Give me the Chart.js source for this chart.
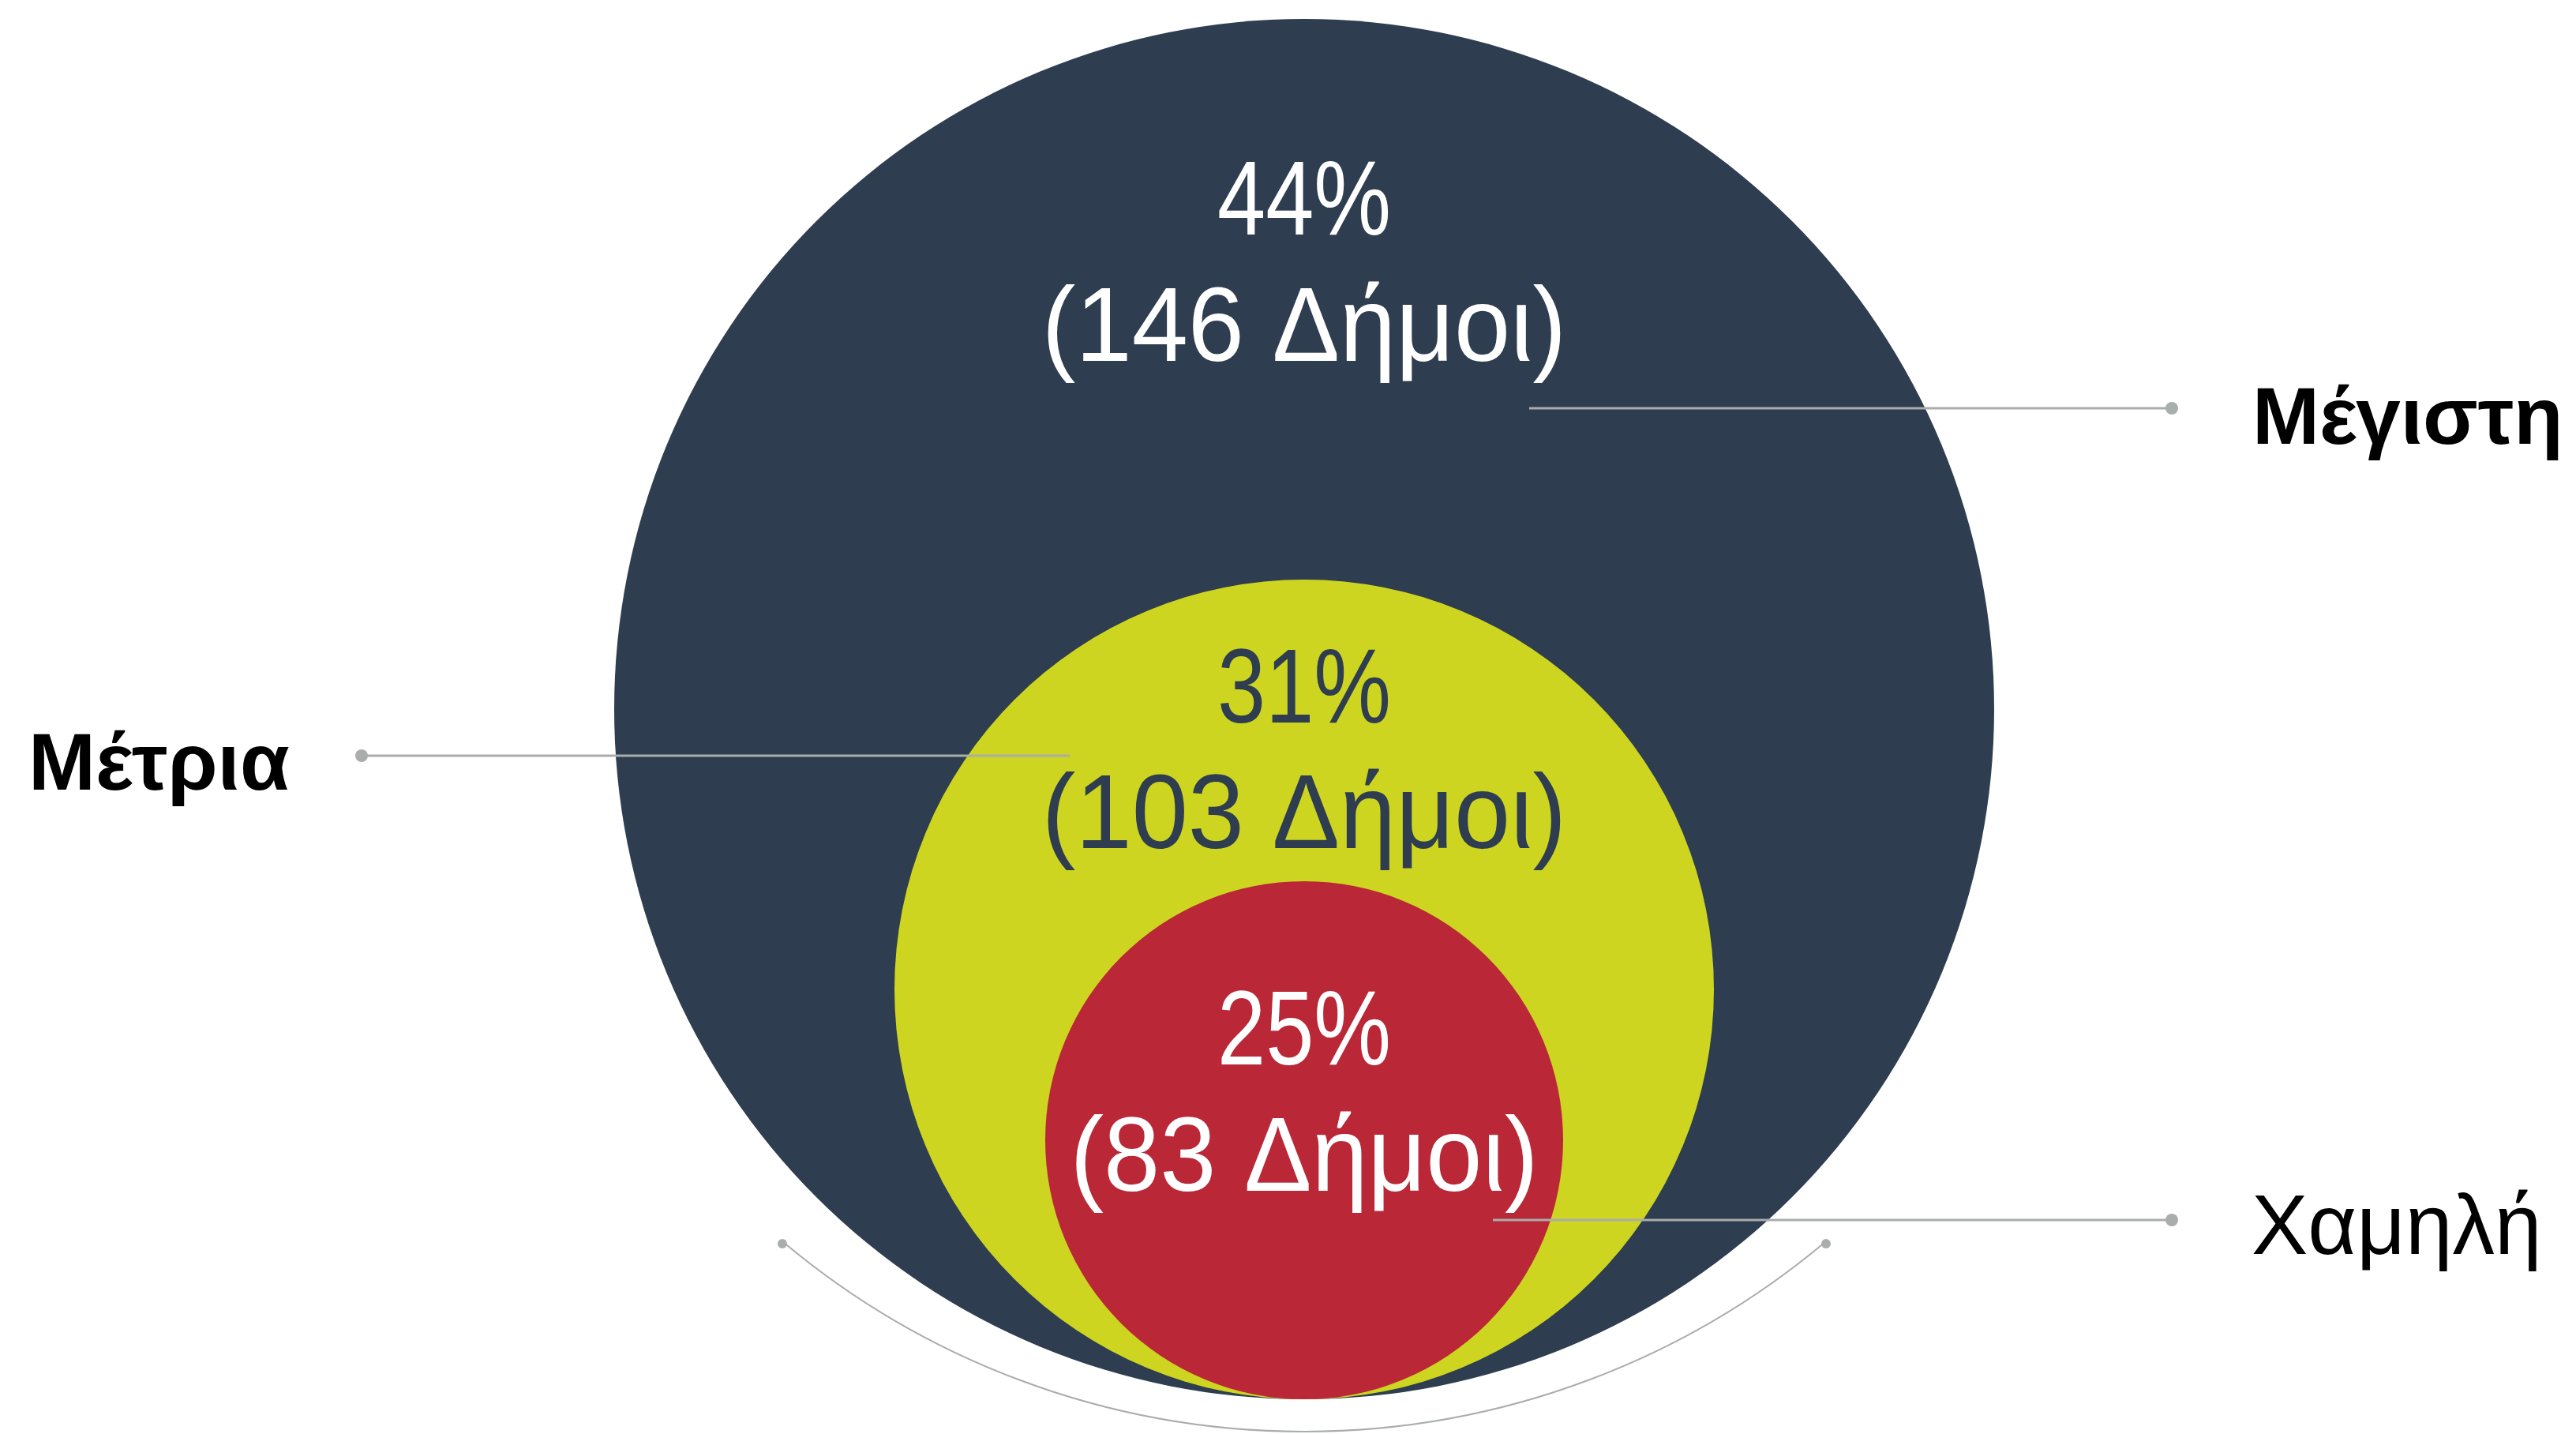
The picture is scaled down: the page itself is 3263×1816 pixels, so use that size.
<!DOCTYPE html>
<html lang="el">
<head>
<meta charset="utf-8">
<title>Δήμοι ανά κατηγορία</title>
<script src="https://cdn.jsdelivr.net/npm/chart.js@4.4.0/dist/chart.umd.min.js"></script>
<style>
  html, body { margin: 0; padding: 0; background: #ffffff; }
  #wrap { width: 3263px; height: 1816px; position: relative; }
</style>
</head>
<body>
<div id="wrap"><canvas id="circlesChart"></canvas></div>
<script>
// Data
const categories = ["Μέγιστη", "Μέτρια", "Χαμηλή"];
const percentValues = [44, 31, 25];
const municipalityCounts = [146, 103, 83];

// Styles / sizes
const circleColors = ["#2E3D4F", "#CDD521", "#BA2737"];
const innerTextColors = ["#FFFFFF", "#2E3D4F", "#FFFFFF"];
const circleRadius = [874, 519, 328];
// baselines of the two text lines, measured from the circle centre
const textOffsets = [[-601, -441], [-338, -179], [-96, 64]];
const lineColor = "#A9ADAC";

// leader lines + outer labels (pixels)
const labelLayout = [
  { lineFrom: 285, lineTo: 2751, dotX: 2751, y: 517, textX: 2853, baseline: 562, weight: "bold" },
  { lineFrom: -297, lineTo: 458, dotX: 458, y: 957, textX: 36, baseline: 1000, weight: "bold" },
  { lineFrom: 239, lineTo: 2751, dotX: 2751, y: 1545, textX: 2852, baseline: 1588, weight: "normal" },
];

// chart: circles bottom-aligned, 1 unit = 1 pixel
const W = 3263, H = 1816;
const centreX = 1652;
const baseY = 1772;

const bubbleData = categories.map((c, i) => ({
  x: 0,
  y: circleRadius[i],
  r: circleRadius[i],
}));

// draw text squeezed a little horizontally (the original font is narrower)
function narrowText(ctx, text, x, y, squeeze) {
  ctx.save();
  ctx.translate(x, y);
  ctx.scale(squeeze, 1);
  ctx.fillText(text, 0, 0);
  ctx.restore();
}

const overlayPlugin = {
  id: "overlay",
  afterDatasetsDraw(chart) {
    const ctx = chart.ctx;
    const meta = chart.getDatasetMeta(0);
    ctx.save();

    // text inside circles
    meta.data.forEach((el, i) => {
      ctx.fillStyle = innerTextColors[i];
      ctx.textAlign = "center";
      ctx.textBaseline = "alphabetic";
      ctx.font = "134px 'Liberation Sans'";
      narrowText(ctx, percentValues[i] + "%", el.x, el.y + textOffsets[i][0], 0.82);
      narrowText(ctx, "(" + municipalityCounts[i] + " Δήμοι)", el.x, el.y + textOffsets[i][1], 0.955);
    });

    // leader lines
    const cx = meta.data[0].x;
    ctx.strokeStyle = lineColor;
    ctx.fillStyle = lineColor;
    ctx.lineWidth = 3;
    labelLayout.forEach((lab, i) => {
      ctx.beginPath();
      ctx.moveTo(cx + lab.lineFrom, lab.y);
      ctx.lineTo(lab.lineTo, lab.y);
      ctx.stroke();
      ctx.beginPath();
      ctx.arc(lab.dotX, lab.y, 8, 0, Math.PI * 2);
      ctx.fill();

      ctx.fillStyle = "#000000";
      ctx.textAlign = "left";
      ctx.font = lab.weight + (lab.weight === "bold" ? " 102px" : " 107px") + " 'Liberation Sans'";
      ctx.fillText(categories[i], lab.textX, lab.baseline);
      ctx.fillStyle = lineColor;
    });

    // arc under the circles
    const arcCy = 786, arcR = 1027;
    const a1 = Math.atan2(1575 - arcCy, 661);
    const a2 = Math.PI - a1;
    ctx.lineWidth = 2;
    ctx.beginPath();
    ctx.arc(cx, arcCy, arcR, a1, a2);
    ctx.stroke();
    [cx - 661, cx + 661].forEach(px => {
      ctx.beginPath();
      ctx.arc(px, 1575, 6, 0, Math.PI * 2);
      ctx.fill();
    });

    ctx.restore();
  }
};

new Chart(document.getElementById("circlesChart"), {
  type: "bubble",
  data: {
    datasets: [{
      data: bubbleData,
      backgroundColor: circleColors,
      borderWidth: 0,
      clip: false,
    }],
  },
  options: {
    responsive: true,
    maintainAspectRatio: false,
    animation: false,
    events: [],
    layout: { padding: 0, autoPadding: false },
    plugins: {
      legend: { display: false },
      tooltip: { enabled: false },
    },
    scales: {
      x: { type: "linear", display: false, min: -centreX, max: W - centreX },
      y: { type: "linear", display: false, min: baseY - H, max: baseY },
    },
  },
  plugins: [overlayPlugin],
});
</script>
</body>
</html>
